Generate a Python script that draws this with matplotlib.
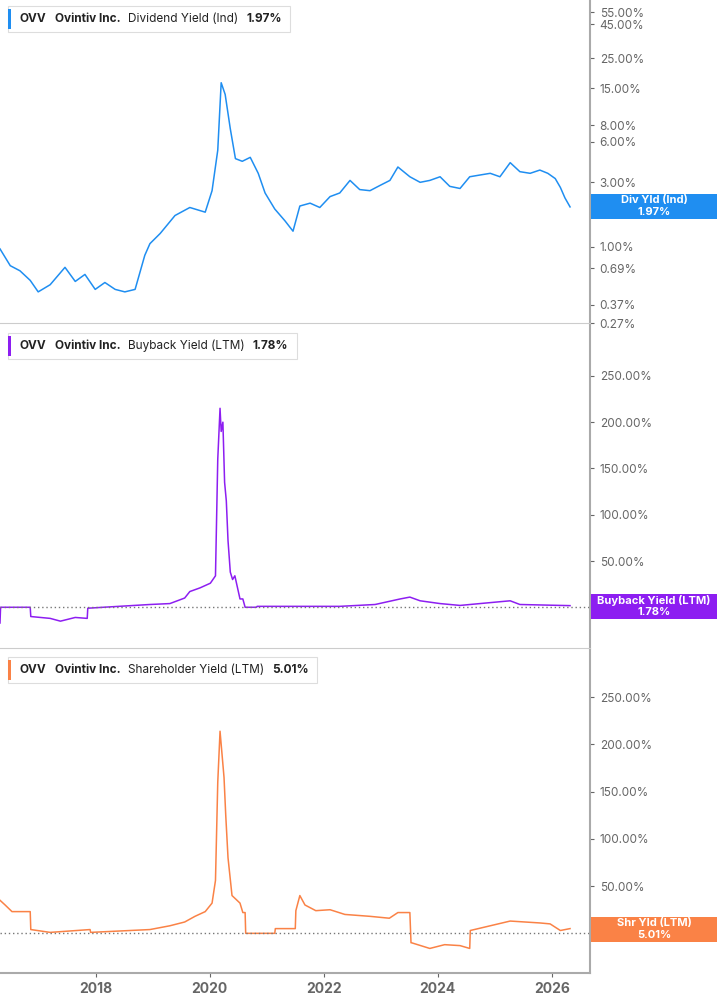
import matplotlib
matplotlib.use("Agg")
import matplotlib.pyplot as plt
import numpy as np
from matplotlib.patches import Rectangle

# ---- data (x in years, values in %) ----
div_x = [2016.32,2016.50,2016.67,2016.85,2016.99,2017.20,2017.46,2017.64,2017.81,2017.99,2018.16,2018.34,2018.51,2018.69,2018.86,2018.95,2019.13,2019.39,2019.65,2019.92,2020.04,2020.14,2020.20,2020.27,2020.36,2020.45,2020.57,2020.71,2020.85,2020.97,2021.14,2021.32,2021.46,2021.58,2021.76,2021.93,2022.11,2022.28,2022.46,2022.63,2022.81,2022.99,2023.16,2023.30,2023.51,2023.69,2023.86,2024.04,2024.21,2024.39,2024.56,2024.74,2024.92,2025.09,2025.27,2025.44,2025.62,2025.79,2025.93,2026.06,2026.15,2026.23,2026.32]
div_y = [0.96,0.72,0.66,0.56,0.46,0.52,0.70,0.55,0.62,0.48,0.54,0.48,0.46,0.48,0.86,1.05,1.25,1.70,1.95,1.80,2.6,5.2,16.5,13.5,7.5,4.5,4.3,4.6,3.5,2.5,1.9,1.55,1.3,2.0,2.1,1.95,2.35,2.5,3.1,2.65,2.6,2.85,3.1,3.9,3.3,3.0,3.1,3.3,2.8,2.7,3.3,3.4,3.5,3.3,4.2,3.6,3.5,3.7,3.5,3.2,2.75,2.3,1.97]

bb_x = [2016.32,2016.33,2016.85,2016.86,2017.20,2017.38,2017.64,2017.85,2017.86,2018.95,2019.30,2019.56,2019.65,2019.83,2020.01,2020.10,2020.14,2020.18,2020.20,2020.23,2020.26,2020.29,2020.32,2020.36,2020.40,2020.44,2020.53,2020.58,2020.62,2020.82,2020.83,2022.28,2022.90,2023.34,2023.51,2023.69,2024.04,2024.39,2025.09,2025.27,2025.44,2026.32]
bb_y = [-17,0,0,-10,-12,-15,-11,-12,-1,3,4,10,17,21,26,34,160,215,190,200,135,115,72,38,30,34,9,9,0,0,1,1,3,9,11,7,4,2,6,7,3,1.78]

sh_x = [2016.32,2016.41,2016.53,2016.85,2016.86,2017.20,2017.90,2017.91,2018.95,2019.30,2019.56,2019.74,2019.92,2020.04,2020.10,2020.14,2020.18,2020.20,2020.25,2020.28,2020.32,2020.39,2020.53,2020.58,2020.62,2020.63,2021.14,2021.15,2021.50,2021.51,2021.58,2021.67,2021.86,2022.11,2022.37,2022.81,2023.15,2023.30,2023.51,2023.53,2023.54,2023.86,2024.12,2024.39,2024.56,2024.57,2024.92,2025.27,2025.79,2025.97,2026.15,2026.32]
sh_y = [35,30,23,23,4,1,4,1,4,8,12,18,23,32,56,160,214,200,165,125,80,40,32,22,22,0,0,5,5,24,40,30,24,25,20,18,16,22,22,-10,-10,-16,-12,-13,-16,3,8,13,11,10,3,5.01]

div_ticks = [0.27,0.37,0.69,1.0,2.0,3.0,6.0,8.0,15.0,25.0,45.0,55.0]
lin_ticks = [0,50,100,150,200,250]

BLUE = "#1f8ef1"; PURPLE = "#8d1ef1"; ORANGE = "#fa8246"
GRAY = "#666666"

plt.rcParams['font.family'] = ['Inter', 'DejaVu Sans']
fig = plt.figure(figsize=(7.17, 10.05), dpi=100)
W, H = 717, 1005

def make_ax(top, bottom):
    ax = fig.add_axes([0, 1 - bottom / H, 590 / W, (bottom - top) / H])
    for s in ["left", "top"]:
        ax.spines[s].set_visible(False)
    ax.spines["right"].set_color("#aaaaaa"); ax.spines["right"].set_linewidth(1.5)
    ax.spines["bottom"].set_color("#cccccc")
    ax.yaxis.tick_right()
    ax.tick_params(axis="y", length=3, color=GRAY, labelcolor=GRAY, labelsize=8.5, pad=4)
    ax.set_xlim(2016.32, 2026.67)
    return ax

ax1 = make_ax(0, 323)
ax1.plot(div_x, div_y, color=BLUE, lw=1.1)
ax1.set_yscale("log")
ax1.set_ylim(0.27, 68)
ax1.set_yticks(div_ticks)
ax1.set_yticklabels([f"{t:.2f}%" for t in div_ticks])
ax1.minorticks_off()
ax1.set_xticks([])

ax2 = make_ax(325, 648)
ax2.plot(bb_x, bb_y, color=PURPLE, lw=1.1)
ax2.set_ylim(-44, 305)
ax2.set_yticks(lin_ticks[1:])
ax2.set_yticklabels([f"{t:.2f}%" for t in lin_ticks[1:]])
ax2.axhline(0, color="#777777", ls=(0, (1, 2)), lw=1)
ax2.set_xticks([])

ax3 = make_ax(650, 973)
ax3.plot(sh_x, sh_y, color=ORANGE, lw=1.1)
ax3.set_ylim(-42, 300)
ax3.set_yticks(lin_ticks[1:])
ax3.set_yticklabels([f"{t:.2f}%" for t in lin_ticks[1:]])
ax3.axhline(0, color="#777777", ls=(0, (1, 2)), lw=1)
ax3.spines["bottom"].set_color("#aaaaaa"); ax3.spines["bottom"].set_linewidth(1.5)
ax3.set_xticks([2018, 2020, 2022, 2024, 2026])
ax3.tick_params(axis="x", length=3, color=GRAY, labelcolor=GRAY, labelsize=10)
for lab in ax3.get_xticklabels():
    lab.set_fontweight("bold")

renderer = fig.canvas.get_renderer()

def header(y, color, name, val):
    x = 20
    parts = [("OVV", "bold", 8), ("Ovintiv Inc.", "bold", 8), (name, "normal", 8), (val, "bold", 0)]
    for txt, wt, gap in parts:
        t = fig.text(x / W, 1 - y / H, txt, fontsize=8.5, fontweight=wt, va="center", color="#222222")
        x += t.get_window_extent(renderer).width + gap
    w = x - 8 + 8
    fig.patches.append(Rectangle((8 / W, 1 - (y + 13) / H), w / W, 26 / H, transform=fig.transFigure,
                                 facecolor="white", edgecolor="#dddddd", lw=0.8, zorder=0.5))
    fig.patches.append(Rectangle((8 / W, 1 - (y + 10) / H), 3 / W, 20 / H, transform=fig.transFigure,
                                 facecolor=color, edgecolor="none", zorder=0.6))

header(19, BLUE, "Dividend Yield (Ind)", "1.97%")
header(346, PURPLE, "Buyback Yield (LTM)", "1.78%")
header(670, ORANGE, "Shareholder Yield (LTM)", "5.01%")

def badge(ymid, color, l1, l2):
    fig.patches.append(Rectangle((591 / W, 1 - (ymid + 12.5) / H), 126 / W, 25 / H, transform=fig.transFigure,
                                 facecolor=color, edgecolor="none"))
    fig.text(654 / W, 1 - (ymid - 6) / H, l1, color="white", fontsize=8, fontweight="bold", ha="center", va="center")
    fig.text(654 / W, 1 - (ymid + 6) / H, l2, color="white", fontsize=8, fontweight="bold", ha="center", va="center")

badge(206, BLUE, "Div Yld (Ind)", "1.97%")
badge(606, PURPLE, "Buyback Yield (LTM)", "1.78%")
badge(929, ORANGE, "Shr Yld (LTM)", "5.01%")

fig.savefig("out.png", dpi=100)
